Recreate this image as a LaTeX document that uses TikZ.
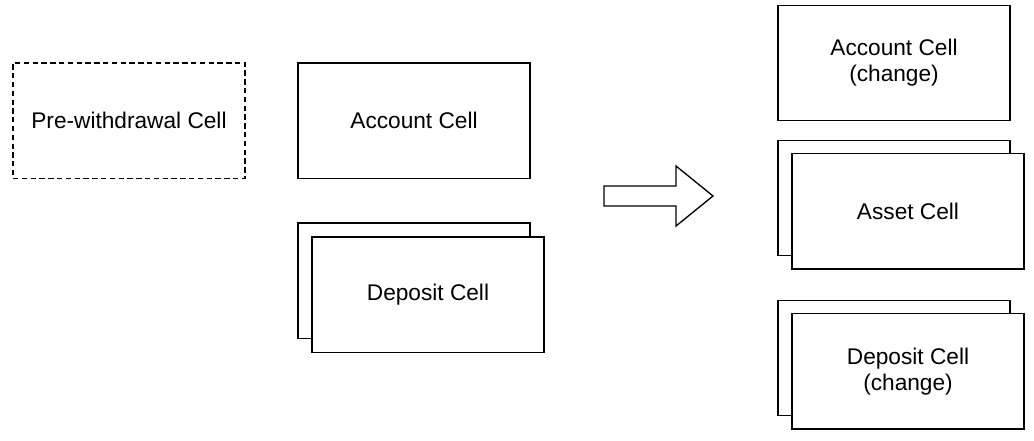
\documentclass[tikz,border=0pt]{standalone}
\usepackage{fontspec}
\setmainfont{Liberation Sans}
\usepackage{tikz}
\usetikzlibrary{positioning}

\begin{document}
\begin{tikzpicture}[x = .75pt, y = -.75pt,
                        cell/.style={draw, line width=1pt, fill=white, minimum width=174pt,
                          minimum height=86.5pt, align=center, font=\fontsize{17}{19.5}\selectfont},
                        ghost/.style={cell, dash pattern=on 4pt off 2.6pt}]
      \useasboundingbox (0,0) rectangle (1034,440);
      \node[ghost] (prew) at (129,120.5) {Pre-withdrawal Cell};
      \node[cell] (acct) at (414,120.5) {Account Cell};
      \node[cell] (depbk) at (414,280.5) {};
      \node[cell] (dep) at ([xshift=10.5pt, yshift=-10.5pt]depbk) {Deposit Cell};
      % transition arrow
      \draw[line width=1pt, line join=miter] (604,186) -- (676,186) -- (676,166) -- (713,196)
        -- (676,226) -- (676,206) -- (604,206) -- cycle;
      \node[cell] (acctch) at (894,63) {Account Cell\\(change)};
      \node[cell] (assetbk) at (894,198) {};
      \node[cell] (asset) at ([xshift=10.5pt, yshift=-10pt]assetbk) {Asset Cell};
      \node[cell] (depchbk) at (894,358) {};
      \node[cell] (depch) at ([xshift=10.5pt, yshift=-10pt]depchbk) {Deposit Cell\\(change)};
    \end{tikzpicture}
\end{document}
